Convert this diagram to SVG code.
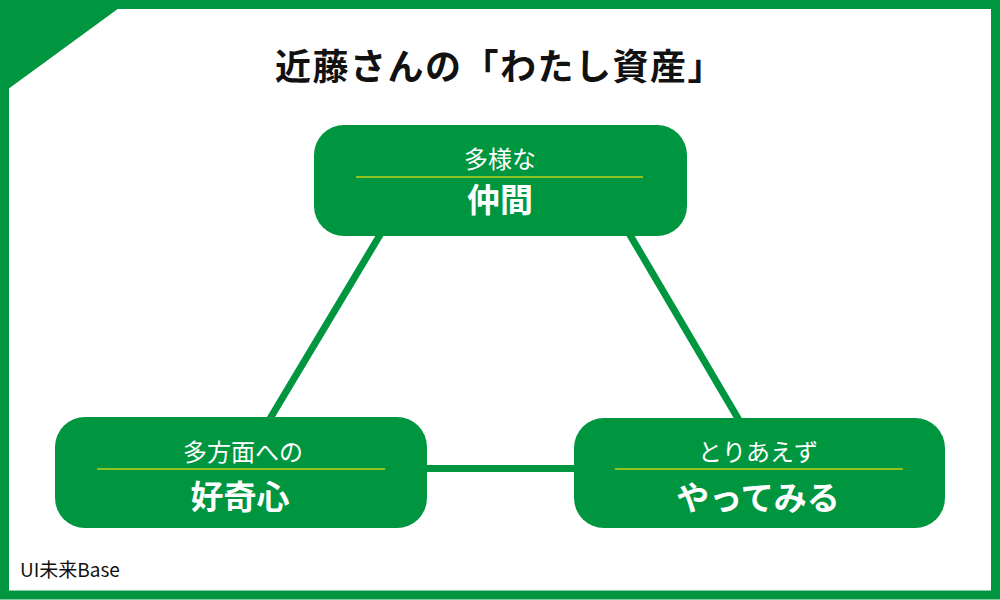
<svg xmlns="http://www.w3.org/2000/svg" width="1000" height="600" viewBox="0 0 1000 600">
  <style>
    .frame { fill: none; stroke: #00963f; stroke-width: 9; }
    .corner { fill: #00963f; }
    .box { fill: #00963f; }
    .rule { stroke: #8dc21f; stroke-width: 2; }
    .edge { stroke: #00963f; stroke-width: 7; fill: none; }
    .title { font-family: "Noto Sans CJK JP", sans-serif; font-weight: 700; font-size: 36px; letter-spacing: 1.5px; fill: #111; text-anchor: middle; }
    .sub { font-family: "Noto Sans CJK JP", sans-serif; font-weight: 400; font-size: 24px; fill: #fff; text-anchor: middle; }
    .main { font-family: "Noto Sans CJK JP", sans-serif; font-weight: 700; font-size: 33px; fill: #fff; text-anchor: middle; }
    .foot { font-family: "Noto Sans CJK JP", sans-serif; font-weight: 400; font-size: 19px; fill: #111; }
  </style>
  <rect x="0" y="0" width="1000" height="600" fill="#fff"/>
  <rect class="frame" x="4.5" y="4.5" width="991" height="590.5"/>
  <polygon class="corner" points="0,0 130,0 0,95"/>
  <text class="title" x="500" y="80">近藤さんの「わたし資産」</text>
  <g id="connectors">
    <line class="edge" x1="444" y1="128" x2="262" y2="432"/>
    <line class="edge" x1="567" y1="128" x2="746" y2="432"/>
    <line class="edge" x1="420" y1="468.5" x2="580" y2="468.5"/>
  </g>
  <g id="node-nakama">
    <rect class="box" x="314" y="125" width="373" height="111" rx="30"/>
    <text class="sub" x="500" y="168">多様な</text>
    <line class="rule" x1="356" y1="177" x2="643" y2="177"/>
    <text class="main" x="500" y="212">仲間</text>
  </g>
  <g id="node-koukishin">
    <rect class="box" x="55" y="417" width="372" height="111" rx="30"/>
    <text class="sub" x="243" y="461">多方面への</text>
    <line class="rule" x1="97" y1="469" x2="385" y2="469"/>
    <text class="main" x="240" y="509">好奇心</text>
  </g>
  <g id="node-yattemiru">
    <rect class="box" x="574" y="418" width="371" height="110" rx="30"/>
    <text class="sub" x="758" y="461">とりあえず</text>
    <line class="rule" x1="615" y1="469" x2="903" y2="469"/>
    <text class="main" x="758" y="510">やってみる</text>
  </g>
  <text class="foot" x="20" y="577">UI未来Base</text>
</svg>
